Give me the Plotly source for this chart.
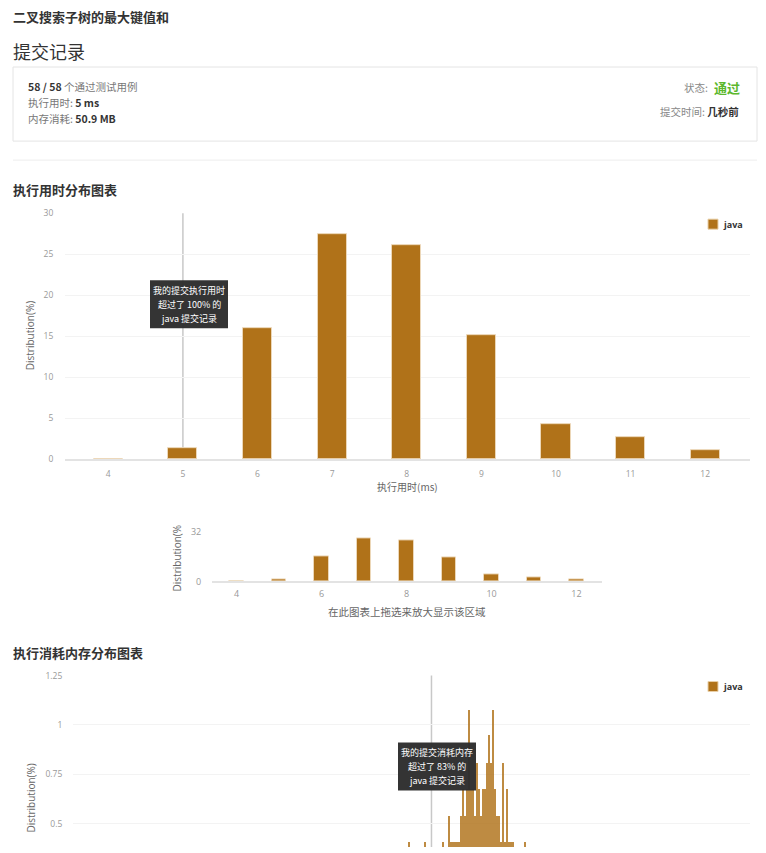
import plotly.graph_objects as go

W, H = 766, 853

# ---------------- data ----------------
time_ms = [4, 5, 6, 7, 8, 9, 10, 11, 12]
time_pct = [0.05, 1.34, 16.0, 27.4, 26.1, 15.1, 4.27, 2.7, 1.1]
my_time = 5

mem_mb = [49.8, 50.1, 50.6, 50.9, 51.2, 51.5,
          51.8, 51.9, 52.0, 52.1, 52.2, 52.3, 52.4, 52.5, 52.6, 52.7,
          52.8, 52.9, 53.0, 53.1, 53.2, 53.3, 53.4, 53.5, 53.6, 53.7,
          53.8, 53.9, 54.0, 54.1, 54.2, 54.3, 54.4, 54.5, 54.6, 54.7,
          54.8, 54.9, 55.0, 55.1, 55.3, 55.6]
mem_pct = [0.41, 0.14, 0.41, 0.27, 0.14, 0.41,
           0.54, 0.41, 0.41, 0.41, 0.41, 0.41, 0.54, 0.68, 0.54, 0.68,
           1.08, 0.68, 0.68, 0.54, 0.81, 0.68, 0.54, 0.68, 0.68, 0.81,
           0.95, 0.81, 1.08, 0.68, 0.54, 0.54, 0.41, 0.81, 0.41, 0.68,
           0.41, 0.41, 0.41, 0.27, 0.14, 0.41]
my_mem = 50.9

time_ticks = [4, 5, 6, 7, 8, 9, 10, 11, 12]
mini_ticks = [4, 6, 8, 10, 12]
mem_yticks = [0.5, 0.75, 1, 1.25]
mem_yticktext = ["0.5", "0.75", "1", "1.25"]

# ---------------- style ----------------
JAVA = "#b07219"
FONT = "Open Sans, Noto Sans CJK SC, sans-serif"
CJK = "Noto Sans CJK SC, sans-serif"
GRID = "#f3f3f3"
TICK = dict(size=8.5, color="#999", family=FONT)

# the photographed page shows a slight vertical offset/compression; compensate
SY, OY = 0.984, 7.0


def px(x):
    return x / W


def Y(y):
    return (y - OY) / SY


def py(y):
    return 1 - Y(y) / H


# memory axis: 1.25 at y=675, 0.5 at y=823 of the picture; bottom of figure is cut
_slope = 0.75 / (Y(823) - Y(675))
mem_ymin = 0.5 - (H - Y(823)) * _slope

fig = go.Figure()

fig.add_trace(go.Bar(x=time_ms, y=time_pct, width=0.39, name="java",
                     marker=dict(color=JAVA, line=dict(color="#ecd7b8", width=1)),
                     xaxis="x", yaxis="y"))
fig.add_trace(go.Bar(x=time_ms, y=time_pct, width=0.34, name="java",
                     marker=dict(color=JAVA, line=dict(color="#ecd7b8", width=1)),
                     xaxis="x2", yaxis="y2"))
fig.add_trace(go.Bar(x=mem_mb, y=mem_pct, width=0.06, name="java",
                     marker=dict(color=JAVA, opacity=0.82, line=dict(width=0)),
                     xaxis="x3", yaxis="y3"))

fig.update_layout(
    width=W, height=H, autosize=False,
    margin=dict(l=0, r=0, t=0, b=0),
    paper_bgcolor="white", plot_bgcolor="white",
    showlegend=False, bargap=0,
    font=dict(family=FONT, color="#666"),
    xaxis=dict(domain=[px(65), px(750)], range=[3.42, 12.6], tickvals=time_ticks,
               showgrid=False, zeroline=False, showline=True, linecolor="#e3e3e3",
               linewidth=1.5, ticks="outside", ticklen=6, tickcolor="rgba(0,0,0,0)",
               tickfont=TICK, anchor="y", fixedrange=True),
    yaxis=dict(domain=[py(459), py(213)], range=[0, 30], dtick=5,
               showgrid=True, gridcolor=GRID, zeroline=False,
               ticks="outside", ticklen=9, tickcolor="rgba(0,0,0,0)",
               tickfont=TICK, anchor="x", fixedrange=True),
    xaxis2=dict(domain=[px(212), px(602)], range=[3.42, 12.6], tickvals=mini_ticks,
                showgrid=False, zeroline=False, showline=True, linecolor="#e3e3e3",
                linewidth=1.5, ticks="outside", ticklen=3, tickcolor="rgba(0,0,0,0)",
                tickfont=dict(size=9, color="#999", family=FONT), anchor="y2", fixedrange=True),
    yaxis2=dict(domain=[py(581), py(531)], range=[0, 32], tickvals=[0, 32],
                showgrid=True, gridcolor=GRID, zeroline=False,
                ticks="outside", ticklen=8, tickcolor="rgba(0,0,0,0)",
                tickfont=dict(size=9, color="#999", family=FONT), anchor="x2", fixedrange=True),
    xaxis3=dict(domain=[px(73), px(750)], range=[32.95, 66.85], visible=False,
                anchor="y3", fixedrange=True),
    yaxis3=dict(domain=[0, py(675)], range=[mem_ymin, 1.25], tickvals=mem_yticks,
                ticktext=mem_yticktext,
                showgrid=True, gridcolor=GRID, zeroline=False,
                ticks="outside", ticklen=8, tickcolor="rgba(0,0,0,0)",
                tickfont=TICK, anchor="x3", fixedrange=True),
)

shapes = []
annos = []

shapes.append(dict(type="rect", xref="paper", yref="paper", x0=px(13), x1=px(757),
                   y0=py(141), y1=py(67), line=dict(color="#e4e4e4", width=1),
                   fillcolor="rgba(0,0,0,0)", layer="above"))
shapes.append(dict(type="line", xref="paper", yref="paper", x0=px(13), x1=px(757),
                   y0=py(160), y1=py(160), line=dict(color="#eeeeee", width=1)))

shapes.append(dict(type="line", xref="x", yref="y domain", x0=my_time, x1=my_time,
                   y0=0, y1=1, line=dict(color="#c8c8c8", width=1.5), layer="below"))
shapes.append(dict(type="line", xref="x3", yref="y3 domain", x0=my_mem, x1=my_mem,
                   y0=0, y1=1, line=dict(color="#c8c8c8", width=1.5), layer="below"))

for (lx, ly) in [(713, 224), (713, 686)]:
    shapes.append(dict(type="rect", xref="paper", yref="paper",
                       x0=px(lx - 5), x1=px(lx + 5), y0=py(ly + 5), y1=py(ly - 5),
                       fillcolor=JAVA, line=dict(color="#e8cfa8", width=1)))
    annos.append(dict(x=px(721), y=py(ly), xref="paper", yref="paper", text="<b>java</b>",
                      showarrow=False, xanchor="left", yanchor="middle",
                      font=dict(size=9, color="#333", family=FONT)))

def tooltip(x0, x1, y0, y1, lines, ys):
    shapes.append(dict(type="rect", xref="paper", yref="paper", x0=px(x0), x1=px(x1),
                       y0=py(y1), y1=py(y0), fillcolor="rgba(45,45,45,0.97)",
                       line=dict(width=0), layer="above"))
    cx = (x0 + x1) / 2
    for t, yy in zip(lines, ys):
        annos.append(dict(x=px(cx), y=py(yy), xref="paper", yref="paper", text=t,
                          showarrow=False, xanchor="center", yanchor="middle",
                          font=dict(size=9, color="white", family=CJK)))

tooltip(150, 228, 280, 328, ["我的提交执行用时", "超过了 100% 的", "java 提交记录"], [290, 304, 318])
tooltip(398, 476, 742, 790, ["我的提交消耗内存", "超过了 83% 的", "java 提交记录"], [752, 766, 780])

def text(x, y, t, size, color="#333", anchor="left", family=CJK, angle=0):
    annos.append(dict(x=px(x), y=py(y), xref="paper", yref="paper", text=t,
                      showarrow=False, xanchor=anchor, yanchor="middle", textangle=angle,
                      font=dict(size=size, color=color, family=family)))

text(11, 16, "<b>二叉搜索子树的最大键值和</b>", 13, "#333")
text(11, 51, "提交记录", 18, "#333")
text(26, 86, "<b>58 / 58</b> <span style='color:#777'>个通过测试用例</span>", 10.5, "#333")
text(26, 102, "<span style='color:#777'>执行用时:</span> <b>5 ms</b>", 10.5, "#333")
text(26, 118, "<span style='color:#777'>内存消耗:</span> <b>50.9 MB</b>", 10.5, "#333")
text(710, 87, "状态:", 10.5, "#888", anchor="right")
text(742, 87, "<b>通过</b>", 13, "#5cb82d", anchor="right")
text(741, 111, "<span style='color:#888'>提交时间: </span><b>几秒前</b>", 10.5, "#333", anchor="right")

text(11, 189, "<b>执行用时分布图表</b>", 13, "#333")
text(11, 652, "<b>执行消耗内存分布图表</b>", 13, "#333")

text(407, 486, "执行用时(ms)", 10, "#666", anchor="center")
text(30, 336, "Distribution(%)", 10, "#666", anchor="center", family=FONT, angle=-90)
text(407, 611, "在此图表上拖选来放大显示该区域", 10.5, "#666", anchor="center")
text(177, 558, "Distribution(%", 10, "#666", anchor="center", family=FONT, angle=-90)
text(31, 798, "Distribution(%)", 10, "#666", anchor="center", family=FONT, angle=-90)

fig.update_layout(shapes=shapes, annotations=annos)

post = (
    "document.documentElement.style.margin='0';"
    "document.body.style.margin='0';"
    "document.body.style.padding='0';"
)
fig.write_html("out.html", config={"displayModeBar": False}, post_script=post)
